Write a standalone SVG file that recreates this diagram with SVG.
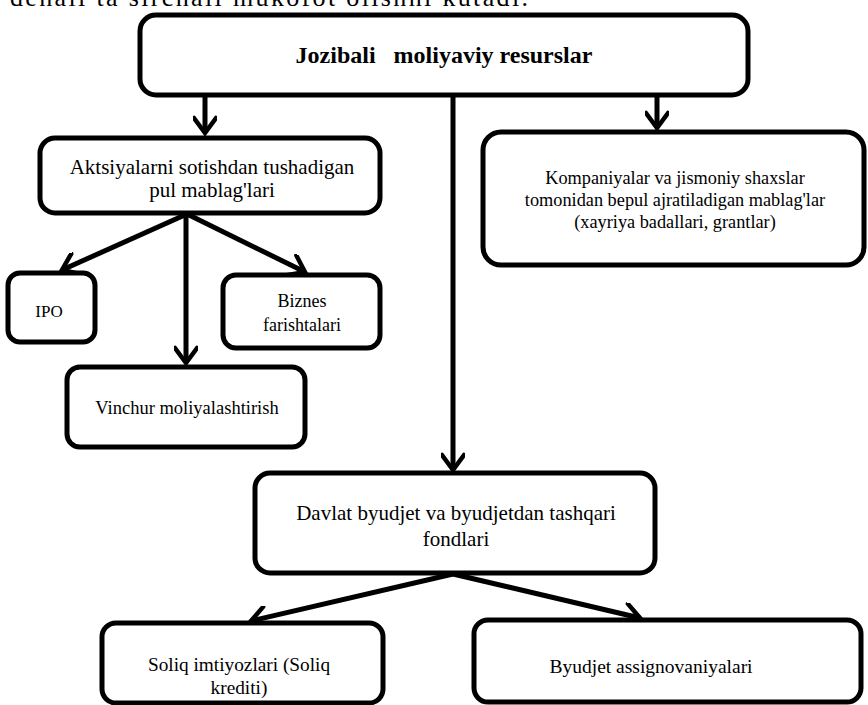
<svg xmlns="http://www.w3.org/2000/svg" width="868" height="705" viewBox="0 0 868 705">
<style>
  .box { fill: #fff; stroke: #000; stroke-width: 5; }
  .t { font-family: "Liberation Serif", "Times New Roman", serif; fill: #000; text-anchor: middle; }
  .conn { stroke: #000; stroke-width: 5; fill: none; }
</style>
<defs>
  <marker id="arr" markerUnits="userSpaceOnUse" viewBox="0 0 24 24" markerWidth="24" markerHeight="24" refX="19" refY="12" orient="auto">
    <path d="M4,1 L19,12 L4,23" fill="none" stroke="#000" stroke-width="4.5" stroke-linecap="round" stroke-linejoin="miter"/>
  </marker>
</defs>
<rect width="868" height="705" fill="#fff"/>
<text class="t" x="10" y="6" textLength="518" lengthAdjust="spacing" style="text-anchor:start;font-size:26px">dehali ta sirchali mukofot olishni kutadi.</text>

<g id="connectors">
  <line class="conn" x1="205" y1="95" x2="205" y2="133" marker-end="url(#arr)"/>
  <line class="conn" x1="453" y1="95" x2="453" y2="470" marker-end="url(#arr)"/>
  <line class="conn" x1="657" y1="95" x2="657" y2="128" marker-end="url(#arr)"/>
  <line class="conn" x1="187" y1="214" x2="62" y2="270" marker-end="url(#arr)"/>
  <line class="conn" x1="186" y1="214" x2="186" y2="363" marker-end="url(#arr)"/>
  <line class="conn" x1="187" y1="214" x2="305" y2="272" marker-end="url(#arr)"/>
  <line class="conn" x1="453" y1="574" x2="251" y2="621" marker-end="url(#arr)"/>
  <line class="conn" x1="453" y1="574" x2="640" y2="618" marker-end="url(#arr)"/>
</g>

<g id="node-top">
  <rect class="box" x="140" y="15" width="608" height="80" rx="16"/>
  <text class="t" x="444" y="63" style="font-size:24px;font-weight:bold;white-space:pre">Jozibali   moliyaviy resurslar</text>
</g>
<g id="node-aktsiya">
  <rect class="box" x="40" y="138" width="340" height="75" rx="15"/>
  <text class="t" x="212" y="174" style="font-size:21px">Aktsiyalarni sotishdan tushadigan</text>
  <text class="t" x="212" y="197" style="font-size:21px">pul mablag'lari</text>
</g>
<g id="node-kompaniya">
  <rect class="box" x="483" y="132" width="381" height="133" rx="18"/>
  <text class="t" x="675" y="184" style="font-size:18.3px">Kompaniyalar va jismoniy shaxslar</text>
  <text class="t" x="675" y="206" style="font-size:18.3px">tomonidan bepul ajratiladigan mablag'lar</text>
  <text class="t" x="675" y="228" style="font-size:18.3px">(xayriya badallari, grantlar)</text>
</g>
<g id="node-ipo">
  <rect class="box" x="8" y="273" width="87" height="69" rx="12"/>
  <text class="t" x="49" y="317" style="font-size:17px">IPO</text>
</g>
<g id="node-biznes">
  <rect class="box" x="223" y="275" width="157" height="73" rx="13"/>
  <text class="t" x="302" y="307" style="font-size:18px">Biznes</text>
  <text class="t" x="302" y="331" style="font-size:18px">farishtalari</text>
</g>
<g id="node-vinchur">
  <rect class="box" x="67" y="367" width="238" height="80" rx="13"/>
  <text class="t" x="187" y="414" style="font-size:18.5px">Vinchur moliyalashtirish</text>
</g>
<g id="node-davlat">
  <rect class="box" x="255" y="473" width="400" height="100" rx="15"/>
  <text class="t" x="456" y="520" style="font-size:21px">Davlat byudjet va byudjetdan tashqari</text>
  <text class="t" x="456" y="546" style="font-size:21px">fondlari</text>
</g>
<g id="node-soliq">
  <rect class="box" x="102" y="623" width="281" height="80" rx="14"/>
  <text class="t" x="239" y="671" style="font-size:19.3px">Soliq imtiyozlari (Soliq</text>
  <text class="t" x="239" y="694" style="font-size:19.3px">krediti)</text>
</g>
<g id="node-byudjet">
  <rect class="box" x="474" y="620" width="387" height="82" rx="14"/>
  <text class="t" x="651" y="673" style="font-size:19.5px">Byudjet assignovaniyalari</text>
</g>
</svg>
